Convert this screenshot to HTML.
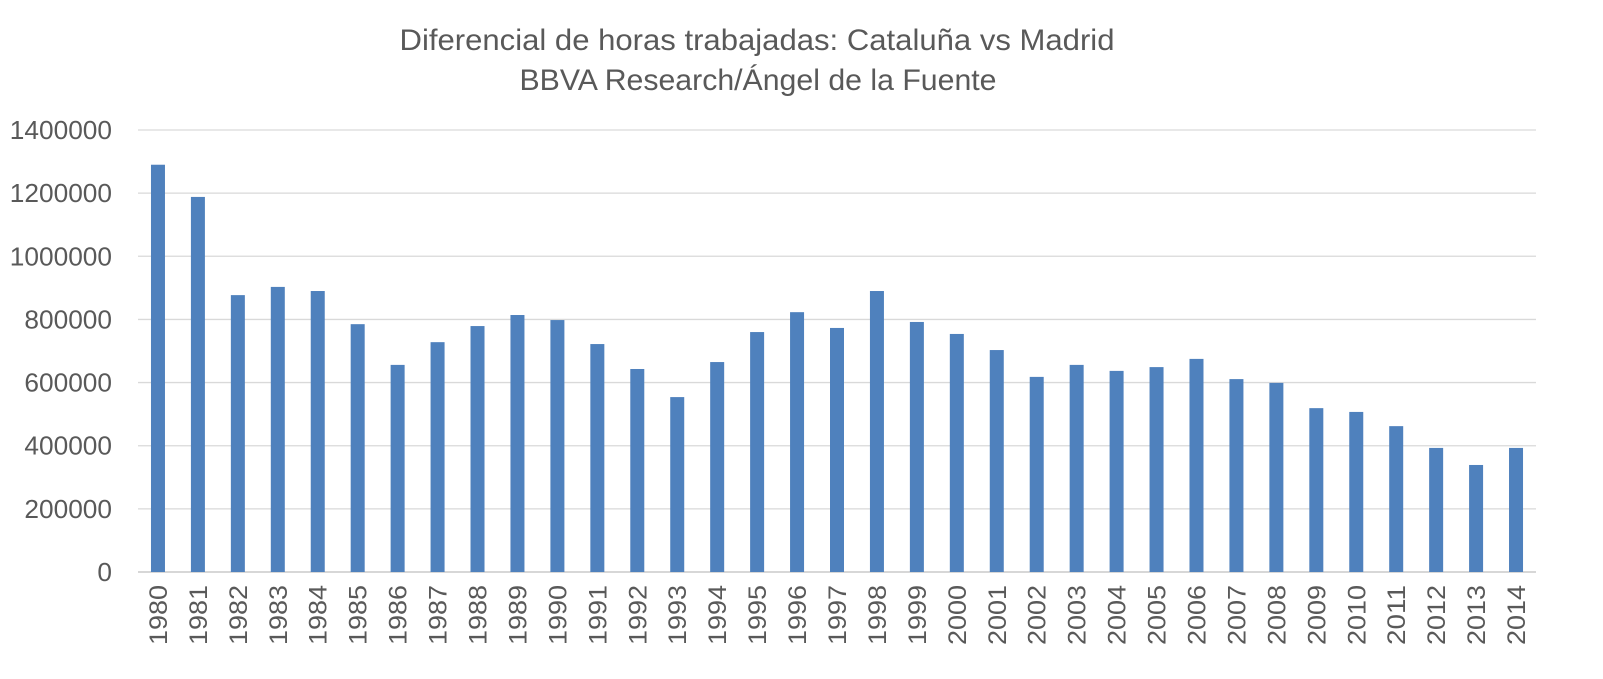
<!DOCTYPE html>
<html><head><meta charset="utf-8"><style>
body{margin:0;background:#fff;}
svg{display:block;font-family:"Liberation Sans",sans-serif;}
</style></head><body>
<svg width="1603" height="679" id="c">
<text x="757" y="50" text-anchor="middle" font-size="30" fill="#595959" textLength="715" lengthAdjust="spacingAndGlyphs">Diferencial de horas trabajadas: Cataluña vs Madrid</text>
<text x="758" y="90" text-anchor="middle" font-size="30" fill="#595959" textLength="477" lengthAdjust="spacingAndGlyphs">BBVA Research/Ángel de la Fuente</text>
</svg>
<script>
const categories=[1980,1981,1982,1983,1984,1985,1986,1987,1988,1989,1990,1991,1992,1993,1994,1995,1996,1997,1998,1999,2000,2001,2002,2003,2004,2005,2006,2007,2008,2009,2010,2011,2012,2013,2014];
const values=[1290000,1188000,877000,903000,890000,785000,656000,728000,779000,814000,798000,722000,643000,554000,665000,760000,823000,773000,890000,792000,754000,703000,618000,656000,637000,649000,675000,611000,599000,519000,507000,462000,393000,339000,393000];
const yTicks=[0,200000,400000,600000,800000,1000000,1200000,1400000];
const svg=document.getElementById('c');const NS='http://www.w3.org/2000/svg';
const y0=572,yTop=130,yMax=1400000,xL=138,xR=1536;
const y=v=>y0-(v/yMax)*(y0-yTop);
const step=(xR-xL)/categories.length;
const x=i=>xL+step*(i+0.5);
function mk(t,a){const e=document.createElementNS(NS,t);for(const k in a)e.setAttribute(k,a[k]);svg.appendChild(e);return e;}
yTicks.forEach(v=>{
 const g=mk('line',{x1:xL,x2:xR,y1:y(v),y2:y(v),stroke:v===0?'#bfbfbf':'#d9d9d9','stroke-width':1.3});
 
 
 const s=String(v);
 const t=mk('text',{x:112,y:y(v)+9,'text-anchor':'end','font-size':26,fill:'#595959',textLength:s.length*14.6,lengthAdjust:'spacingAndGlyphs'});t.textContent=s;
 
 
});
categories.forEach((c,i)=>{
 const r=mk('rect',{x:x(i)-7,y:y(values[i]),width:14,height:y0-y(values[i]),fill:'#4f81bd'});
 
 
 const t=mk('text',{transform:`translate(${x(i)+9},585) rotate(-90)`,'text-anchor':'end','font-size':25,fill:'#595959',textLength:60,lengthAdjust:'spacingAndGlyphs'});t.textContent=c;
 
 
});
</script>
</body></html>
